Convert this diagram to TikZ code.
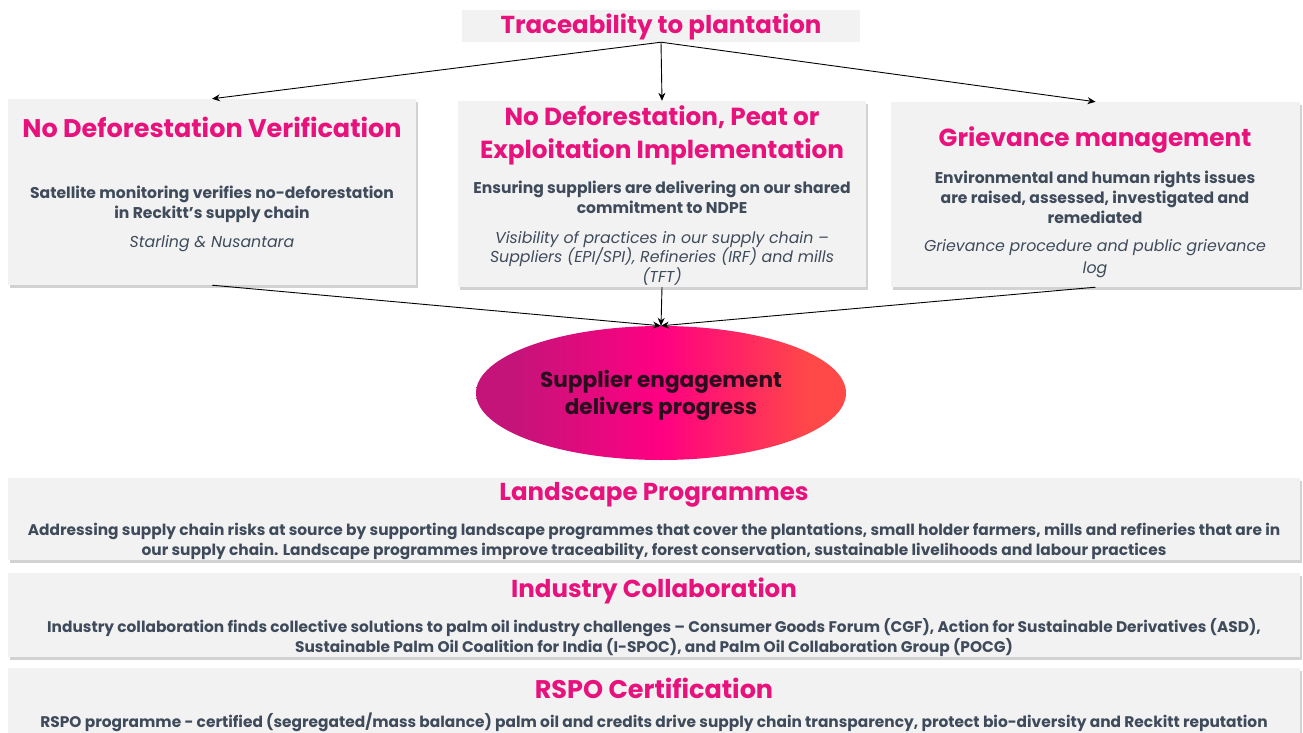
\documentclass[tikz,border=0pt]{standalone}
\usepackage{fontspec}
\setmainfont{Poppins}
\usetikzlibrary{arrows.meta,shadows,shapes.geometric}
\definecolor{pinkc}{HTML}{E8127C}
\definecolor{bodyc}{HTML}{3F4B5B}
\definecolor{boxc}{HTML}{F2F2F2}
\definecolor{ellL}{HTML}{C41479}
\definecolor{ellM}{HTML}{FF0082}
\definecolor{ellR}{HTML}{FF4848}
\definecolor{elltext}{HTML}{2A0E1E}
\pgfdeclarehorizontalshading{ellshade}{100bp}{color(0bp)=(ellL); color(30bp)=(ellL); color(50bp)=(ellM); color(70bp)=(ellR); color(100bp)=(ellR)}
\begin{document}
\begin{tikzpicture}[x=1pt,y=-1pt,
 card/.style={draw=none,fill=boxc,inner sep=0pt,drop shadow={shadow xshift=2pt,shadow yshift=-3pt,opacity=0.35}},
 ttl/.style={text=pinkc,font=\fontsize{24.7}{33}\selectfont\bfseries,align=center,inner sep=0pt},
 bttl/.style={text=pinkc,font=\fontsize{24.5}{26}\selectfont\bfseries,align=center,inner sep=0pt},
 bod/.style={text=bodyc,font=\fontsize{15.6}{20}\selectfont\bfseries,align=center,inner sep=0pt},
 ita/.style={text=bodyc,font=\fontsize{15.8}{19.5}\selectfont\itshape,align=center,inner sep=0pt},
 arr/.style={-{Stealth[length=8pt,width=7pt]},line width=0.9pt,black}]
\useasboundingbox[fill=white] (0,0) rectangle (1303,733);

% top
\node[fill=boxc,minimum width=398pt,minimum height=32pt,inner sep=0pt] (top) at (661,26) {};
\node[bttl] (toptxt) at (661,27) {Traceability to plantation};

% three cards
\node[card,minimum width=408pt,minimum height=186pt] (left) at (212,192) {};
\node[card,minimum width=408pt,minimum height=186pt] (mid) at (662,194) {};
\node[card,minimum width=409pt,minimum height=185pt] (right) at (1095.5,194.5) {};

\node[ttl,font=\fontsize{25.5}{33}\selectfont\bfseries] (lt) at (212,127) {No Deforestation Verification};
\node[bod] (lb) at (212,204) {Satellite monitoring verifies no-deforestation\\in Reckitt’s supply chain};
\node[ita] (li) at (212,244) {Starling \& Nusantara};

\node[ttl] (mt) at (662,135) {No Deforestation, Peat or\\Exploitation Implementation};
\node[bod] (mb) at (662,197) {Ensuring suppliers are delivering on our shared\\commitment to NDPE};
\node[ita] (mi) at (662,258) {Visibility of practices in our supply chain –\\Suppliers (EPI/SPI), Refineries (IRF) and mills\\(TFT)};

\node[ttl] (rt) at (1095,140) {Grievance management};
\node[bod] (rb) at (1095,197) {Environmental and human rights issues\\are raised, assessed, investigated and\\remediated};
\node[ita,font=\fontsize{15.8}{22}\selectfont\itshape] (ri) at (1095,259) {Grievance procedure and public grievance\\log};

% ellipse
\node[ellipse,minimum width=370pt,minimum height=134pt,shading=ellshade,draw=none] (eng) at (661,393) {};
\node[text=elltext,font=\fontsize{21.6}{27}\selectfont\bfseries,align=center,inner sep=0pt] (engtxt) at (661,395) {Supplier engagement\\delivers progress};

% arrows
\draw[arr] (top.south) -- (left.north);
\draw[arr] (top.south) -- (mid.north);
\draw[arr] (top.south) -- (right.north);
\draw[arr] (left.south) -- (eng.north);
\draw[arr] (mid.south) -- (eng.north);
\draw[arr] (right.south) -- (eng.north);

% bottom bands
\node[card,minimum width=1292pt,minimum height=82pt] (land) at (654,519) {};
\node[bttl] (landt) at (654,495) {Landscape Programmes};
\node[bod,font=\fontsize{15.4}{20}\selectfont\bfseries] (landb) at (654,541) {Addressing supply chain risks at source by supporting landscape programmes that cover the plantations, small holder farmers, mills and refineries that are in\\our supply chain. Landscape programmes improve traceability, forest conservation, sustainable livelihoods and labour practices};

\node[card,minimum width=1292pt,minimum height=84pt] (ind) at (654,615) {};
\node[bttl] (indt) at (654,591) {Industry Collaboration};
\node[bod,font=\fontsize{15.4}{20}\selectfont\bfseries] (indb) at (654,638) {Industry collaboration finds collective solutions to palm oil  industry challenges – Consumer Goods Forum (CGF), Action for Sustainable Derivatives (ASD),\\Sustainable Palm Oil Coalition for India (I-SPOC), and Palm Oil Collaboration Group (POCG)};

\node[card,minimum width=1292pt,minimum height=80pt] (rspo) at (654,708) {};
\node[bttl,font=\fontsize{25.5}{26}\selectfont\bfseries] (rspot) at (654,688) {RSPO Certification};
\node[bod,font=\fontsize{15.4}{20}\selectfont\bfseries] (rspob) at (654,722) {RSPO programme - certified (segregated/mass balance) palm oil and credits drive supply chain transparency, protect bio-diversity and Reckitt reputation};
\end{tikzpicture}
\end{document}
